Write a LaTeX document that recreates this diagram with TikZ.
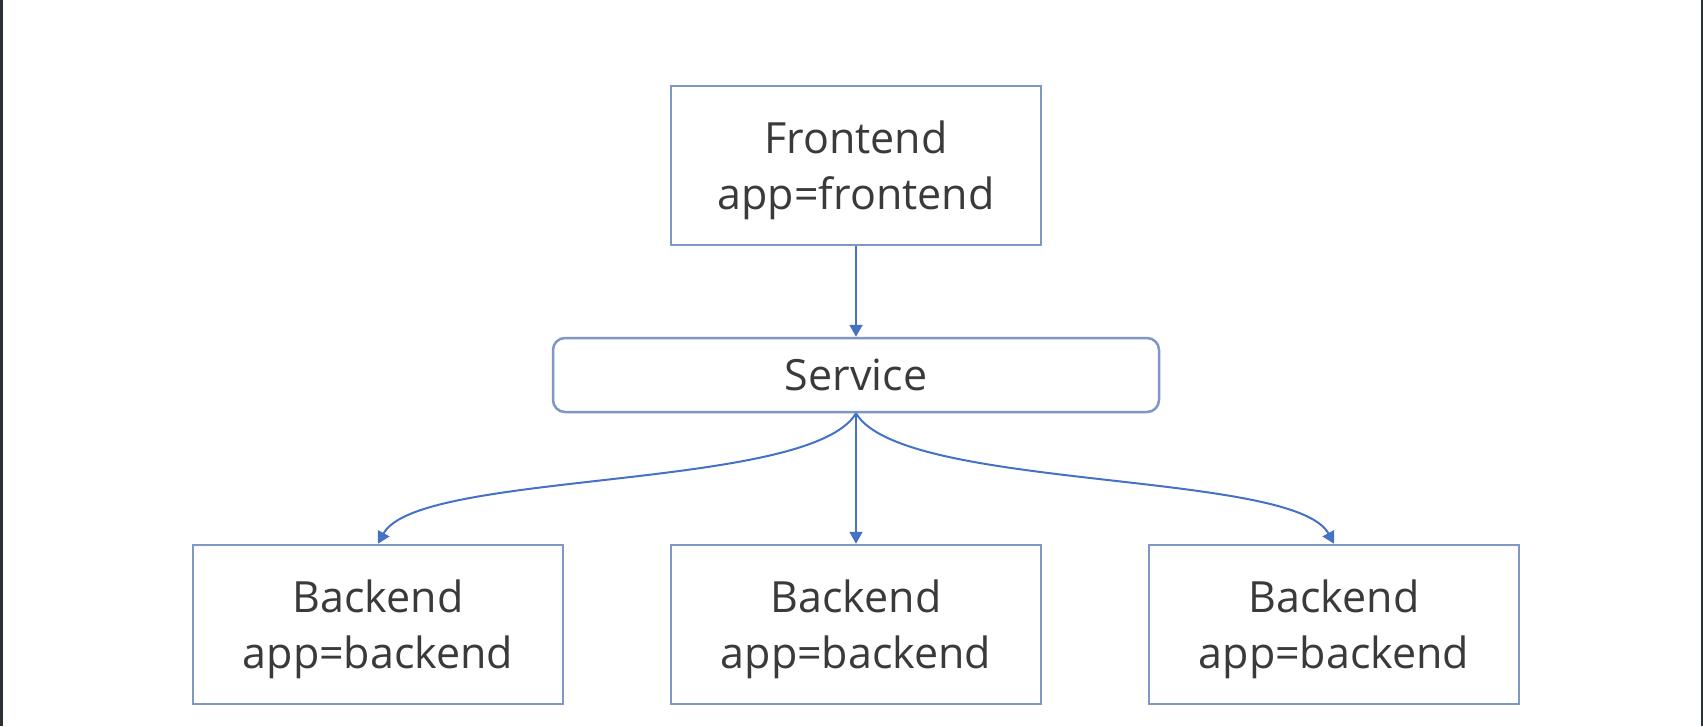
\documentclass[tikz,border=0pt]{standalone}
\usepackage{fontspec}
\setmainfont{Open Sans}
\usepackage{xcolor}
\usepackage{tikz}
\usetikzlibrary{arrows.meta,positioning}

\definecolor{boxblue}{HTML}{7F97C4}
\definecolor{linkblue}{HTML}{4472C4}
\definecolor{txtgray}{HTML}{3A3A3A}
\definecolor{edgedark}{HTML}{2B3035}

\begin{document}
\begin{tikzpicture}[x=1pt,y=-1pt,
  podbox/.style={draw=boxblue,line width=2.5pt,minimum width=370pt,minimum height=159pt,
    align=center,text depth=0pt,text=txtgray,font=\fontsize{43}{56}\selectfont},
  svcbox/.style={draw=boxblue,line width=2.5pt,rounded corners=12pt,minimum width=606pt,
    minimum height=74pt,text=txtgray,font=\fontsize{43}{56}\selectfont},
  link/.style={draw=linkblue,line width=2pt,-{Triangle[width=13pt,length=12pt]}}]
\useasboundingbox (0,0) rectangle (1703,726);
\fill[white] (0,0) rectangle (1703,726);
\fill[edgedark] (0,0) rectangle (2.5,726);
\fill[edgedark] (1700.5,0) rectangle (1703,726);
\node[podbox] (front) at (856,165.5) {Frontend\\app=frontend};
\node[svcbox] (svc) at (856,375) {Service};
\node[podbox] (back1) at (378,624.5) {Backend\\app=backend};
\node[podbox] (back2) at (856,624.5) {Backend\\app=backend};
\node[podbox] (back3) at (1334,624.5) {Backend\\app=backend};
\draw[link] (front) -- (svc);
\draw[link] (svc.south) -- (back2.north);
\draw[link] (svc.south) .. controls +(-46,78) and +(40,-74) .. (back1.north);
\draw[link] (svc.south) .. controls +(46,78) and +(-40,-74) .. (back3.north);
\end{tikzpicture}
\end{document}
